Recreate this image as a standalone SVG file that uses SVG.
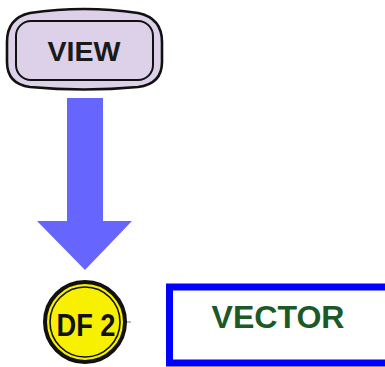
<svg xmlns="http://www.w3.org/2000/svg" width="385" height="367" viewBox="0 0 385 367">
  <style>
    .key { fill: #ddd1e9; stroke: #111; }
    .label { font-family: "Liberation Sans", Arial, sans-serif; font-weight: bold; text-anchor: middle; }
  </style>
  <rect width="385" height="367" fill="#ffffff"/>

  <!-- VIEW key -->
  <g id="view-key">
    <path class="key" stroke-width="2.6" d="M 30 13 Q 84 5 138 13 Q 162 18 162 42 L 162 62 Q 162 84 138 87 Q 84 92 30 87 Q 7 84 7 62 L 7 42 Q 7 18 30 13 Z"/>
    <rect class="key" x="16" y="21" width="137" height="59" rx="15" ry="15" stroke-width="2"/>
    <text class="label" x="84" y="61" font-size="28" textLength="73" lengthAdjust="spacingAndGlyphs" fill="#1a1a1a">VIEW</text>
  </g>

  <!-- block arrow down -->
  <g id="connectors">
    <polygon points="67,98 103,98 103,221 132,221 85,270 37,221 67,221" fill="#6666ff"/>
  </g>

  <!-- DF 2 key -->
  <g id="df2-key">
    <line x1="126" y1="322" x2="131" y2="322" stroke="#777" stroke-width="1"/>
    <circle cx="85" cy="322" r="40" fill="#f7f000" stroke="#111" stroke-width="4"/>
    <circle cx="85" cy="322" r="35" fill="none" stroke="#111" stroke-width="1.6"/>
    <text class="label" x="86" y="336" font-size="32" textLength="59" lengthAdjust="spacingAndGlyphs" fill="#111">DF 2</text>
  </g>

  <!-- VECTOR box -->
  <g id="vector-box">
    <rect x="169.5" y="287" width="230" height="76" fill="#ffffff" stroke="#0000ff" stroke-width="7"/>
    <text class="label" x="278" y="328" font-size="32" textLength="133" lengthAdjust="spacingAndGlyphs" fill="#1b5a26">VECTOR</text>
  </g>
</svg>
